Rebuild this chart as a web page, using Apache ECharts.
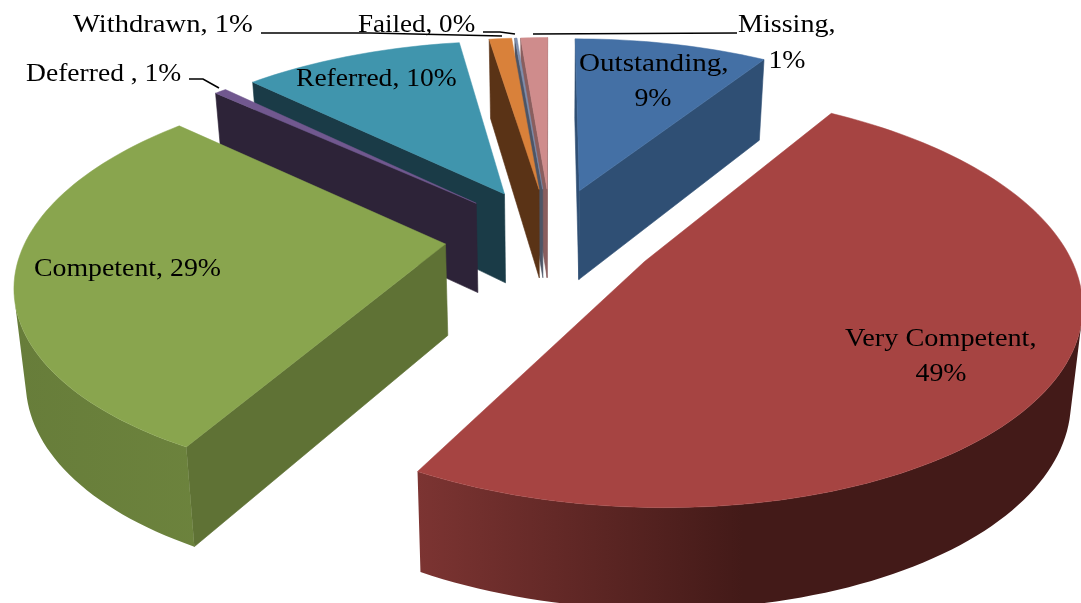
<!DOCTYPE html>
<html><head><meta charset="utf-8">
<style>html,body{margin:0;padding:0;background:#fff}#c{width:1081px;height:603px}</style>
<script src="https://cdn.jsdelivr.net/npm/echarts@6/dist/echarts.min.js"></script>
</head><body><div id="c"></div>
<script>
const categories = ['Outstanding','Very Competent','Competent','Deferred','Referred','Withdrawn','Failed','Missing'];
const values = [9,49,28.8,0.55,10.25,1.05,0.1,1.25];
const topColors = ['#4470A5','#A64442','#89A54E','#71588F','#4095AD','#D9813A','#7F8FAE','#CF8C8C'];
const faceColors = ['#2F4F74','#6E2F2D','#5F7235','#2D2338','#1A3B47','#5A3316','#4D5566','#8A5E5E'];
const wallFrom = ['#2F4F74','#7C3432','#677D3A','#2D2338','#1A3B47','#5A3316','#4D5566','#8A5E5E'];
const wallTo = ['#2F4F74','#431A18','#70873F','#2D2338','#1A3B47','#5A3316','#4D5566','#8A5E5E'];
const drawOrder = [0,7,6,5,4,3,2,1];

const cx=551, cy=236, fx=418, fy=193, k=0.175, explode=0.254, ramp=325, converge=0.978;
const total = values.reduce((a,b)=>a+b,0);
function proj(x,y,h){
  const w=1+k*y, X=fx*x/w, Y=cy-fy*y/w;
  return h ? [cx+X*converge, Y+91-9.5*y] : [cx+X, Y];
}
function area(p){let s=0;for(let i=0;i<p.length;i++){const q=p[(i+1)%p.length];s+=p[i][0]*q[1]-q[0]*p[i][1];}return s/2;}

function renderSlice(params, api){
  const i=params.dataIndex, val=api.value(0);
  let before=0; for(let j=0;j<i;j++) before+=values[j];
  const a0=before/total*2*Math.PI, a1=(before+val)/total*2*Math.PI, b=(a0+a1)/2;
  const ox=explode*Math.sin(b), oy=explode*Math.cos(b);
  const n=Math.max(2,Math.ceil((a1-a0)/(Math.PI/120)));
  const arc=[]; for(let s=0;s<=n;s++){const a=a0+(a1-a0)*s/n;arc.push([ox+Math.sin(a),oy+Math.cos(a)]);}
  const T=p=>proj(p[0],p[1],0), B=p=>proj(p[0],p[1],1), apex=[ox,oy];
  let z=drawOrder.indexOf(i)*1000;
  const children=[];
  const add=(pts,fill)=>children.push({type:'polygon',z2:z++,shape:{points:pts},style:{fill,stroke:fill,lineWidth:0.6}});
  const quad=(p,q,fill)=>{const pts=[T(p),T(q),B(q),B(p)]; if(area(pts)<0) add(pts,fill);};
  quad(apex,arc[0],faceColors[i]);
  quad(arc[n],apex,faceColors[i]);
  const left=Math.min(...arc.map(p=>T(p)[0]));
  const grad={type:'linear',x:left,y:0,x2:left+ramp,y2:0,global:true,
    colorStops:[{offset:0,color:wallFrom[i]},{offset:1,color:wallTo[i]}]};
  const vis=[];
  for(let s=0;s<n;s++){
    const pts=[T(arc[s]),T(arc[s+1]),B(arc[s+1]),B(arc[s])];
    if(area(pts)<0){ if(!vis.length) vis.push(arc[s]); vis.push(arc[s+1]); }
  }
  if(vis.length) children.push({type:'polygon',z2:z++,shape:{points:vis.map(T).concat(vis.slice().reverse().map(B))},style:{fill:grad}});
  children.push({type:'polygon',z2:z++,shape:{points:[T(apex)].concat(arc.map(T))},style:{fill:topColors[i],stroke:topColors[i],lineWidth:0.5}});
  return {type:'group',children};
}

const font='"Liberation Serif", serif', fs=26;
const txt=(s,x,y,sc,align)=>({type:'text',z:50,x,y,scaleX:sc,style:{text:s,x:0,y:0,fill:'#000',font:fs+'px '+font,textAlign:align||'left',textVerticalAlign:'middle'}});
const line=(pts)=>({type:'polyline',z:49,shape:{points:pts},style:{stroke:'#000',lineWidth:1.6,fill:null}});

const chart=echarts.init(document.getElementById('c'),null,{renderer:'canvas'});
chart.setOption({
  animation:false,
  backgroundColor:'#fff',
  series:[{type:'custom',coordinateSystem:'none',renderItem:renderSlice,silent:true,
    data:values.map((v,i)=>({name:categories[i],value:[v]}))}],
  graphic:[
    line([[261,33],[370,33],[502,36]]),
    line([[483,32],[500,32],[515,34]]),
    line([[533,34],[737,33]]),
    line([[189,79],[203,79],[219,88]]),
    txt('Withdrawn, 1%',73,25,1.10),
    txt('Failed, 0%',358,25,1.04),
    txt('Missing,',738,25,1.08),
    txt('1%',787,61,1.07,'center'),
    txt('Deferred , 1%',26,74,1.06),
    txt('Outstanding,',579,64,1.12),
    txt('9%',653,99,1.07,'center'),
    txt('Referred, 10%',296,79,1.06),
    txt('Competent, 29%',34,269,1.07),
    txt('Very Competent,',845,339,1.087),
    txt('49%',941,374,1.07,'center')
  ]
});
</script></body></html>
